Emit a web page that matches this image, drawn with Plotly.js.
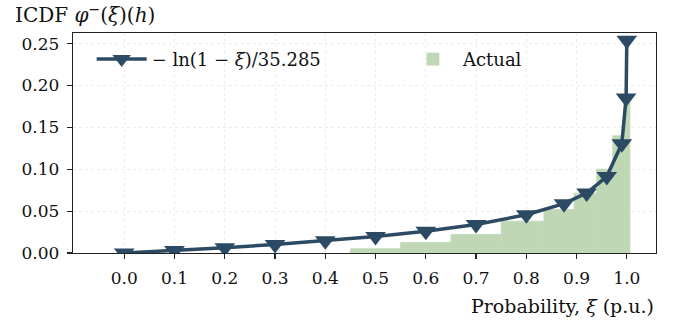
<!DOCTYPE html>
<html><head><meta charset="utf-8">
<script src="https://cdn.plot.ly/plotly-3.0.1.min.js"></script>
<style>html,body{margin:0;padding:0;background:#fff}</style>
</head><body><div id="chart" style="width:681px;height:324px"></div>
<script>
// Probability points and inverse-CDF values
const xi   = [0, 0.1, 0.2, 0.3, 0.4, 0.5, 0.6, 0.7, 0.8, 0.875, 0.92, 0.96, 0.99, 0.9985, 0.9999];
const icdf = [0, 0.003, 0.0063, 0.0101, 0.0145, 0.0196, 0.026, 0.0341, 0.0456, 0.0589, 0.0716, 0.0912, 0.1305, 0.185, 0.254];

// "Actual" step bars (bin edges and heights)
const barLeft   = [0.45, 0.55, 0.65, 0.75, 0.835, 0.895, 0.94, 0.972, 0.995];
const barRight  = [0.55, 0.65, 0.75, 0.835, 0.895, 0.94, 0.972, 0.995, 1.006];
const barHeight = [0.005, 0.0126, 0.022, 0.038, 0.052, 0.0714, 0.1, 0.14, 0.18];

const xTicks = [0, 0.1, 0.2, 0.3, 0.4, 0.5, 0.6, 0.7, 0.8, 0.9, 1.0];
const xTickLabels = ['0.0','0.1','0.2','0.3','0.4','0.5','0.6','0.7','0.8','0.9','1.0'];
const yTicks = [0, 0.05, 0.1, 0.15, 0.2, 0.25];
const yTickLabels = ['0.00','0.05','0.10','0.15','0.20','0.25'];

const lineName = '\u2212 ln(1 \u2212 <i>\u03be</i>)/35.285';
const barName = 'Actual';

const dark = '#2c4a63';
const green = 'rgb(191,215,181)';
const FONT = 'DejaVu Serif, serif';

const barX = barLeft.map((l, i) => (l + barRight[i]) / 2);
const barW = barLeft.map((l, i) => barRight[i] - l);

const data = [
  {
    type: 'scatter', mode: 'lines+markers', x: xi, y: icdf, name: lineName,
    line: {color: dark, width: 3.5},
    marker: {symbol: 'triangle-down', size: 18, color: dark},
    cliponaxis: true, legend: 'legend'
  },
  {
    type: 'bar', x: barX, y: barHeight, width: barW, name: barName,
    marker: {color: green, line: {width: 0.8, color: green}}, legend: 'legend2'
  }
];

const axisCommon = {
  showline: true, linecolor: '#222', linewidth: 1.3, mirror: true,
  ticks: 'outside', ticklen: 5, tickwidth: 1.2, tickcolor: '#222',
  showgrid: true, gridcolor: '#e8e8e8', gridwidth: 0.8, griddash: 'dot',
  zeroline: false, tickfont: {family: FONT, size: 17, color: '#111'}
};

const legendCommon = {
  orientation: 'h', xanchor: 'left', yanchor: 'middle', y: 0.88,
  bgcolor: 'rgba(255,255,255,0)', borderwidth: 0,
  font: {family: FONT, size: 18, color: '#111'}, itemwidth: 50
};

const layout = {
  width: 681, height: 324,
  margin: {l: 73, r: 25, t: 33, b: 71},
  paper_bgcolor: '#fff', plot_bgcolor: '#fff',
  font: {family: FONT, size: 17, color: '#111'},
  showlegend: true,
  legend: Object.assign({}, legendCommon, {x: 0.032}),
  legend2: Object.assign({}, legendCommon, {x: 0.566}),
  xaxis: Object.assign({}, axisCommon, {
    range: [-0.102, 1.058], tickmode: 'array', tickvals: xTicks, ticktext: xTickLabels,
    ticklabelstandoff: 4
  }),
  yaxis: Object.assign({}, axisCommon, {
    range: [0, 0.2626], tickmode: 'array', tickvals: yTicks, ticktext: yTickLabels,
    ticklabelstandoff: 4
  }),
  annotations: [
    {xref: 'paper', yref: 'paper', x: -0.103, y: 1.085, xanchor: 'left', yanchor: 'middle',
     text: 'ICDF <i>\u03c6</i><sup>\u2212</sup>(<i>\u03be</i>)(<i>h</i>)', showarrow: false,
     font: {family: FONT, size: 20, color: '#111'}},
    {xref: 'paper', yref: 'paper', x: 1.0, y: -0.243, xanchor: 'right', yanchor: 'middle',
     text: 'Probability, <i>\u03be</i> (p.u.)', showarrow: false,
     font: {family: FONT, size: 19, color: '#111'}}
  ]
};

Plotly.newPlot('chart', data, layout, {displayModeBar: false, staticPlot: true});
</script></body></html>
